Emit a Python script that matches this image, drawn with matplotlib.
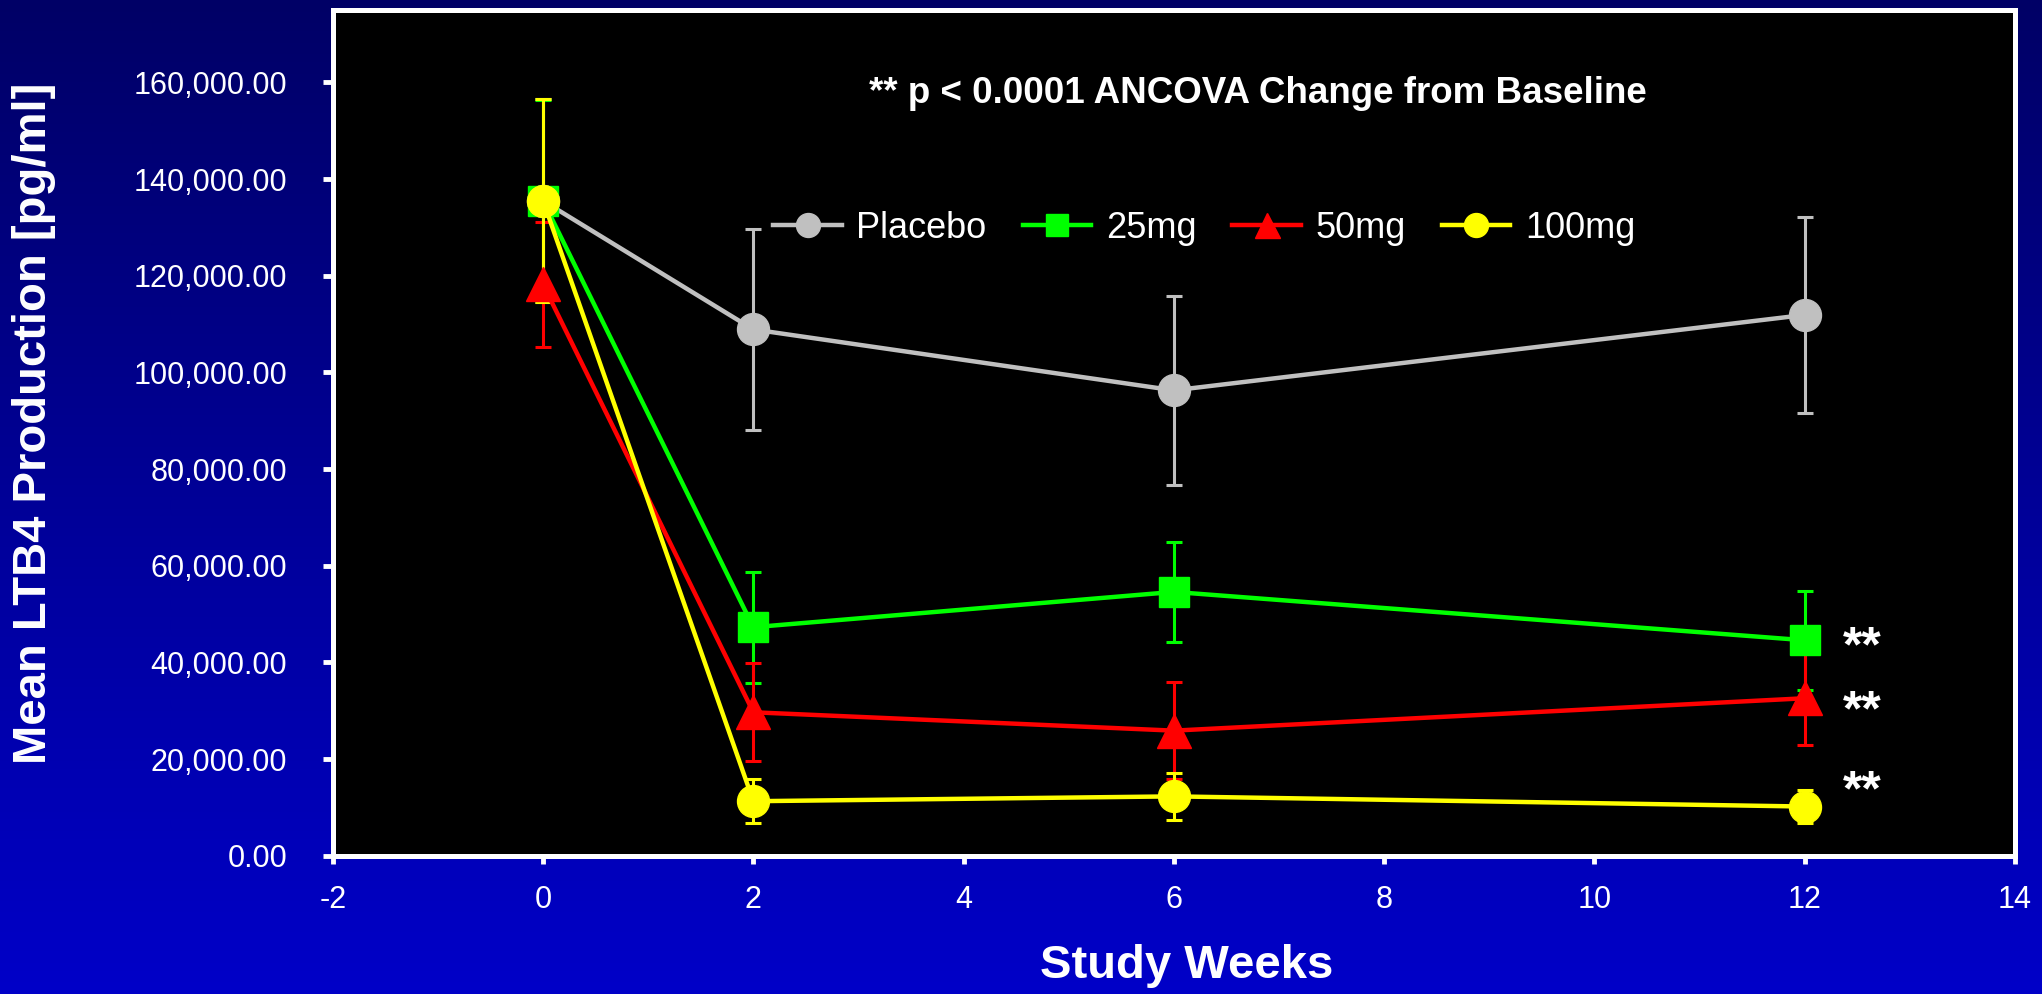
import numpy as np
import matplotlib
matplotlib.use("Agg")
import matplotlib.pyplot as plt
from matplotlib.colors import LinearSegmentedColormap
from matplotlib.ticker import FuncFormatter

plt.rcParams['font.family'] = ['Liberation Sans', 'DejaVu Sans']
plt.rcParams['axes.unicode_minus'] = False

# data
weeks = [0, 2, 6, 12]
series_names = ["Placebo", "25mg", "50mg", "100mg"]
placebo = [135500, 108900, 96300, 111900]
placebo_err = [21000, 20800, 19600, 20200]
mg25 = [135500, 47300, 54600, 44600]
mg25_err = [20800, 11500, 10400, 10200]
mg50 = [118200, 29700, 25900, 32600]
mg50_err = [13000, 10100, 10000, 9700]
mg100 = [135500, 11300, 12300, 10200]
mg100_err = [21000, 4600, 4900, 3500]

star_x = [12.36, 12.36, 12.36]
star_y = [40300, 27000, 10400]

note = "** p < 0.0001 ANCOVA Change from Baseline"

colors = ["#C0C0C0", "#00FF00", "#FF0000", "#FFFF00"]
markers = ["o", "s", "^", "o"]
msizes = [23, 22, 24, 23]

fig = plt.figure(figsize=(20.42, 9.94), dpi=100)

# blue gradient background
bg = fig.add_axes([0, 0, 1, 1], zorder=-10)
grad = np.linspace(0, 1, 256).reshape(-1, 1)
cmap = LinearSegmentedColormap.from_list("bg", ["#000066", "#0000C8"])
bg.imshow(grad, aspect="auto", cmap=cmap, extent=[0, 1, 0, 1], origin="upper")
bg.set_axis_off()

ax = fig.add_axes([0.163, 0.139, 0.8237, 0.851])
ax.set_facecolor("black")

all_vals = [placebo, mg25, mg50, mg100]
all_err = [placebo_err, mg25_err, mg50_err, mg100_err]

# error bars underneath everything
for vals, err, c in zip(all_vals, all_err, colors):
    ax.errorbar(weeks, vals, yerr=err, fmt="none", ecolor=c,
                elinewidth=2.2, capsize=5.5, capthick=2.2, zorder=2)

# lines and markers: placebo, 50mg, 25mg, 100mg
order = [0, 2, 1, 3]
handles = [None] * 4
for i in order:
    ln, = ax.plot(weeks, all_vals[i], color=colors[i], lw=3.2,
                  marker=markers[i], ms=msizes[i], mfc=colors[i], mec=colors[i],
                  label=series_names[i], zorder=3 + order.index(i))
    handles[i] = ln

ax.set_xlim(-2, 14)
ax.set_ylim(0, 175000)
ax.set_xticks(np.arange(-2, 15, 2))
ax.set_yticks(np.arange(0, 160001, 20000))
ax.yaxis.set_major_formatter(FuncFormatter(lambda v, p: "{:,.2f}".format(v)))

for s in ax.spines.values():
    s.set_color("white")
    s.set_linewidth(3.6)

ax.tick_params(axis="y", colors="white", labelsize=22, length=7, width=3.5,
               pad=26, direction="out")
ax.tick_params(axis="x", colors="white", labelsize=22, length=6, width=3.5,
               pad=15, direction="out")

ax.text(6.8, 157800, note, color="white", fontsize=26.5, fontweight="bold",
        ha="center", va="center")

for x, y in zip(star_x, star_y):
    ax.text(x, y, "**", color="white", fontsize=36, fontweight="bold",
            ha="left", va="baseline")

leg = ax.legend(handles=handles, loc="center", bbox_to_anchor=(0.518, 0.742),
                ncol=4, frameon=False, fontsize=26, markerscale=0.75,
                handlelength=1.9, handletextpad=0.4, columnspacing=1.0)
for t in leg.get_texts():
    t.set_color("white")

fig.text(34 / 2042, 1 - 423 / 994, "Mean LTB4 Production [pg/ml]", color="white",
         fontsize=34, fontweight="bold", rotation=90, ha="center", va="center")
fig.text(1187 / 2042, 1 - 966 / 994, "Study Weeks", color="white",
         fontsize=34, fontweight="bold", ha="center", va="center")

fig.savefig("out.png", dpi=100)
